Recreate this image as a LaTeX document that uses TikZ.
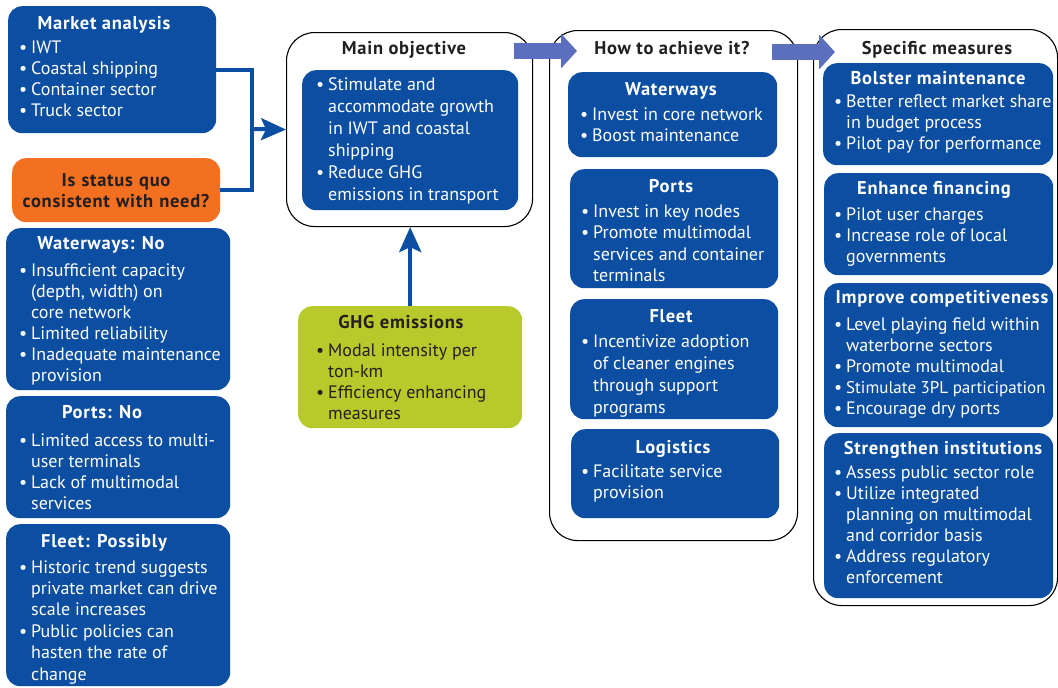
\documentclass[tikz,border=0pt]{standalone}
\usepackage{fontspec}
\setmainfont{PT Sans}
\newfontfamily\ttlfont[LetterSpace=4]{PT Sans}
\usetikzlibrary{arrows.meta}
\definecolor{wbblue}{HTML}{0B4EA2}
\definecolor{wborange}{HTML}{F37021}
\definecolor{wbgreen}{HTML}{B7C92B}
\definecolor{wbarrow}{HTML}{5B6FBE}
\definecolor{wbdark}{HTML}{231F20}
\newcommand\bu{\makebox[12pt][l]{•}}
\newcommand\blist[1]{\begin{tabular}[t]{@{}l@{}l@{}}#1\end{tabular}}
\tikzset{
  panel/.style={draw=none, inner sep=0, anchor=north west, rounded corners=14pt},
  bluebox/.style={panel, fill=wbblue},
  orangebox/.style={panel, fill=wborange},
  greenbox/.style={panel, fill=wbgreen},
  outerbox/.style={draw=black, line width=1.1pt, fill=white, inner sep=0, anchor=north west, rounded corners=28pt},
  ttl/.style={font=\fontsize{18.5}{21}\selectfont\ttlfont\bfseries, text=white, inner sep=0, anchor=base},
  dttl/.style={ttl, text=wbdark},
  body/.style={font=\fontsize{18}{21}\selectfont, text=white, inner sep=0, anchor=base west},
  dbody/.style={body, text=wbdark},
  conn/.style={draw=wbblue, line width=4pt},
  bigarrow/.style={draw=wbarrow, line width=16pt, -{Triangle[length=16pt,width=34pt]}},
}
\begin{document}
\begin{tikzpicture}[x=1pt,y=-1pt]
\useasboundingbox (0,0) rectangle (1058,688);
% left column
\node[bluebox, minimum width=208, minimum height=127] (market) at (8,6) {};
\node[ttl] (marketT) at (104,29) {Market analysis};
\node[body] (marketB) at (19,53) {\blist{\bu & IWT\\ \bu & Coastal shipping\\ \bu & Container sector\\ \bu & Truck sector}};

\node[orangebox, minimum width=208, minimum height=64] (quo) at (12,158) {};
\node[dttl, text width=208, align=center] (quoT) at (116,186) {Is status quo\\consistent with need?};

\node[bluebox, minimum width=224, minimum height=162] (wwno) at (6,228) {};
\node[ttl] (wwnoT) at (101,249) {Waterways: No};
\node[body] (wwnoB) at (19,276) {\blist{\bu & Insufficient capacity\\ & (depth, width) on\\ & core network\\ \bu & Limited reliability\\ \bu & Inadequate maintenance\\ & provision}};

\node[bluebox, minimum width=224, minimum height=122] (portsno) at (6,396) {};
\node[ttl] (portsnoT) at (102,418) {Ports: No};
\node[body] (portsnoB) at (19,446) {\blist{\bu & Limited access to multi-\\ & user terminals\\ \bu & Lack of multimodal\\ & services}};

\node[bluebox, minimum width=224, minimum height=162] (fleetp) at (6,524) {};
\node[ttl] (fleetpT) at (104,547) {Fleet: Possibly};
\node[body, font=\fontsize{18}{21.4}\selectfont] (fleetpB) at (19,573) {\blist{\bu & Historic trend suggests\\ & private market can drive\\ & scale increases\\ \bu & Public policies can\\ & hasten the rate of\\ & change}};

% main objective
\node[outerbox, minimum width=246, minimum height=194] (mainobj) at (286,32) {};
\node[dttl] (mainobjT) at (404,54) {Main objective};
\node[bluebox, minimum width=216, minimum height=140] (mainin) at (302,70) {};
\node[body, font=\fontsize{18}{22}\selectfont] (maininB) at (316,90) {\blist{\bu & Stimulate and\\ & accommodate growth\\ & in IWT and coastal\\ & shipping\\ \bu & Reduce GHG\\ & emissions in transport}};

\node[greenbox, minimum width=224, minimum height=122] (ghg) at (298,306) {};
\node[dttl] (ghgT) at (401,328) {GHG emissions};
\node[dbody] (ghgB) at (316,356) {\blist{\bu & Modal intensity per\\ & ton-km\\ \bu & Efficiency enhancing\\ & measures}};

% how to achieve it
\node[outerbox, minimum width=248, minimum height=510] (how) at (549,30) {};
\node[dttl] (howT) at (672,54) {How to achieve it?};
\node[bluebox, minimum width=209, minimum height=85] (hww) at (568,72) {};
\node[ttl] (hwwT) at (671,95) {Waterways};
\node[body] (hwwB) at (580,120) {\blist{\bu & Invest in core network\\ \bu & Boost maintenance}};
\node[bluebox, minimum width=208, minimum height=119] (hports) at (570,169) {};
\node[ttl] (hportsT) at (671,192) {Ports};
\node[body, font=\fontsize{18}{21.5}\selectfont] (hportsB) at (581,217) {\blist{\bu & Invest in key nodes\\ \bu & Promote multimodal\\ & services and container\\ & terminals}};
\node[bluebox, minimum width=208, minimum height=120] (hfleet) at (570,299) {};
\node[ttl] (hfleetT) at (671,322) {Fleet};
\node[body, font=\fontsize{18}{22.3}\selectfont] (hfleetB) at (581,347) {\blist{\bu & Incentivize adoption\\ & of cleaner engines\\ & through support\\ & programs}};
\node[bluebox, minimum width=208, minimum height=89] (hlog) at (571,429) {};
\node[ttl] (hlogT) at (673,453) {Logistics};
\node[body] (hlogB) at (581,477) {\blist{\bu & Facilitate service\\ & provision}};

% specific measures
\node[outerbox, minimum width=244, minimum height=576] (spec) at (813,29) {};
\node[dttl] (specT) at (937,54) {Specific measures};
\node[bluebox, minimum width=230, minimum height=102] (sbol) at (823,63) {};
\node[ttl] (sbolT) at (938,84) {Bolster maintenance};
\node[body] (sbolB) at (834,107) {\blist{\bu & Better reflect market share\\ & in budget process\\ \bu & Pilot pay for performance}};
\node[bluebox, minimum width=229, minimum height=102] (sfin) at (824,173) {};
\node[ttl] (sfinT) at (934,194) {Enhance financing};
\node[body] (sfinB) at (834,220) {\blist{\bu & Pilot user charges\\ \bu & Increase role of local\\ & governments}};
\node[bluebox, minimum width=229, minimum height=144] (scomp) at (824,283) {};
\node[ttl] (scompT) at (942,303) {Improve competitiveness};
\node[body] (scompB) at (834,330) {\blist{\bu & Level playing field within\\ & waterborne sectors\\ \bu & Promote multimodal\\ \bu & {\fontsize{17}{21}\selectfont Stimulate 3PL participation}\\ \bu & Encourage dry ports}};
\node[bluebox, minimum width=229, minimum height=165] (sinst) at (824,433) {};
\node[ttl] (sinstT) at (943,454) {Strengthen institutions};
\node[body] (sinstB) at (834,478) {\blist{\bu & Assess public sector role\\ \bu & Utilize integrated\\ & planning on multimodal\\ & and corridor basis\\ \bu & Address regulatory\\ & enforcement}};

% connectors
\coordinate (jn) at (252,129);
\draw[conn] (market.east) -- ++(36,0) |- (quo.east);
\draw[conn, -{Stealth[length=25pt,width=22pt,inset=5pt]}] ([xshift=-2pt]jn) -- (mainobj.west);
\draw[conn, -{Stealth[length=25pt,width=22pt,inset=5pt]}] (ghg.north) -- (ghg.north |- mainobj.south);
\coordinate (a1s) at (514,51);
\coordinate (a1e) at (577,51);
\coordinate (a2s) at (772,52);
\coordinate (a2e) at (835,52);
\draw[bigarrow] (a1s) -- (a1e);
\draw[bigarrow] (a2s) -- (a2e);
\end{tikzpicture}
\end{document}
